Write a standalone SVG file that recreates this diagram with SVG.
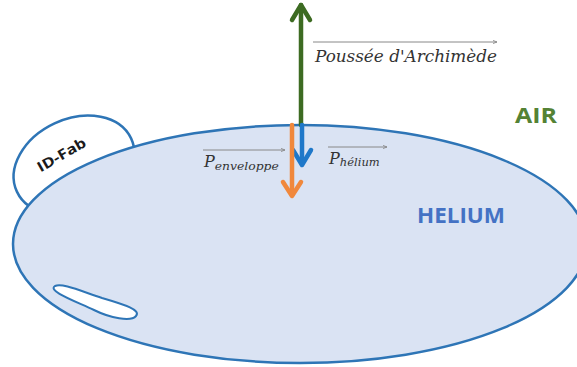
<svg xmlns="http://www.w3.org/2000/svg" width="577" height="367" viewBox="0 0 577 367">
<defs>
<style>
.shape{stroke:#2e75b6;stroke-width:2.5}
.math{font-family:"DejaVu Serif","Liberation Serif",serif;font-style:italic;fill:#333}
.vec{stroke:#888;stroke-width:1;fill:none}
</style>
<marker id="vh" viewBox="0 0 6 6" refX="5" refY="3" markerWidth="5" markerHeight="5" orient="auto"><path d="M0,1 L5,3 L0,5" fill="none" stroke="#888" stroke-width="1"/></marker>
</defs>
<rect width="577" height="367" fill="#fff"/>
<g id="idfab">
<ellipse cx="74" cy="165" rx="63" ry="46" transform="rotate(-25 74 165)" fill="#fff" class="shape"/>
</g>
<g id="balloon">
<ellipse cx="300" cy="244" rx="287" ry="119" fill="#dae3f3" class="shape"/>
<path d="M55 286 C62 283 78 290 102 298 C126 305 141 310 136 316 C131 322 110 318 94 310 C75 301 47 291 55 286 Z" fill="#fff" stroke="#2e75b6" stroke-width="2"/>
</g>
<text x="64" y="159" transform="rotate(-30 64 159)" font-family="'Open Sans','Liberation Sans',sans-serif" font-weight="bold" font-size="14" fill="#1a1a1a" text-anchor="middle" textLength="54" lengthAdjust="spacingAndGlyphs">ID-Fab</text>
<g id="connectors" fill="none" stroke-linecap="round" stroke-linejoin="round">
<g id="archimede" stroke="#3d6b22" stroke-width="4.5">
<line x1="301" y1="125" x2="301" y2="5"/>
<polyline points="292,20 301,5 310,20"/>
</g>
<g id="helium-arrow" stroke="#1f78c9" stroke-width="4.5">
<line x1="302" y1="125" x2="302" y2="164"/>
<polyline points="293,150 302,165 311,150"/>
</g>
<g id="enveloppe-arrow" stroke="#f0883c" stroke-width="4.5">
<line x1="292" y1="125" x2="292" y2="195"/>
<polyline points="283,182 292,196 301,182"/>
</g>
</g>
<g id="labels">
<line x1="313" y1="42" x2="497" y2="42" class="vec" marker-end="url(#vh)"/>
<text x="315" y="62" class="math" font-size="16" textLength="182" lengthAdjust="spacingAndGlyphs">Poussée d'Archimède</text>
<line x1="203" y1="150" x2="285" y2="150" class="vec" marker-end="url(#vh)"/>
<text x="204" y="167" class="math" font-size="16">P<tspan font-size="11" dy="3" textLength="64" lengthAdjust="spacingAndGlyphs">enveloppe</tspan></text>
<line x1="328" y1="147" x2="387" y2="147" class="vec" marker-end="url(#vh)"/>
<text x="329" y="164" class="math" font-size="16">P<tspan font-size="11" dy="2" textLength="40" lengthAdjust="spacingAndGlyphs">hélium</tspan></text>
<text x="515" y="123" font-family="'Open Sans','Liberation Sans',sans-serif" font-weight="bold" font-size="22" fill="#548235" textLength="42" lengthAdjust="spacingAndGlyphs">AIR</text>
<text x="417" y="223" font-family="'Open Sans','Liberation Sans',sans-serif" font-weight="bold" font-size="21" fill="#4472c4" textLength="88" lengthAdjust="spacingAndGlyphs">HELIUM</text>
</g>
</svg>
